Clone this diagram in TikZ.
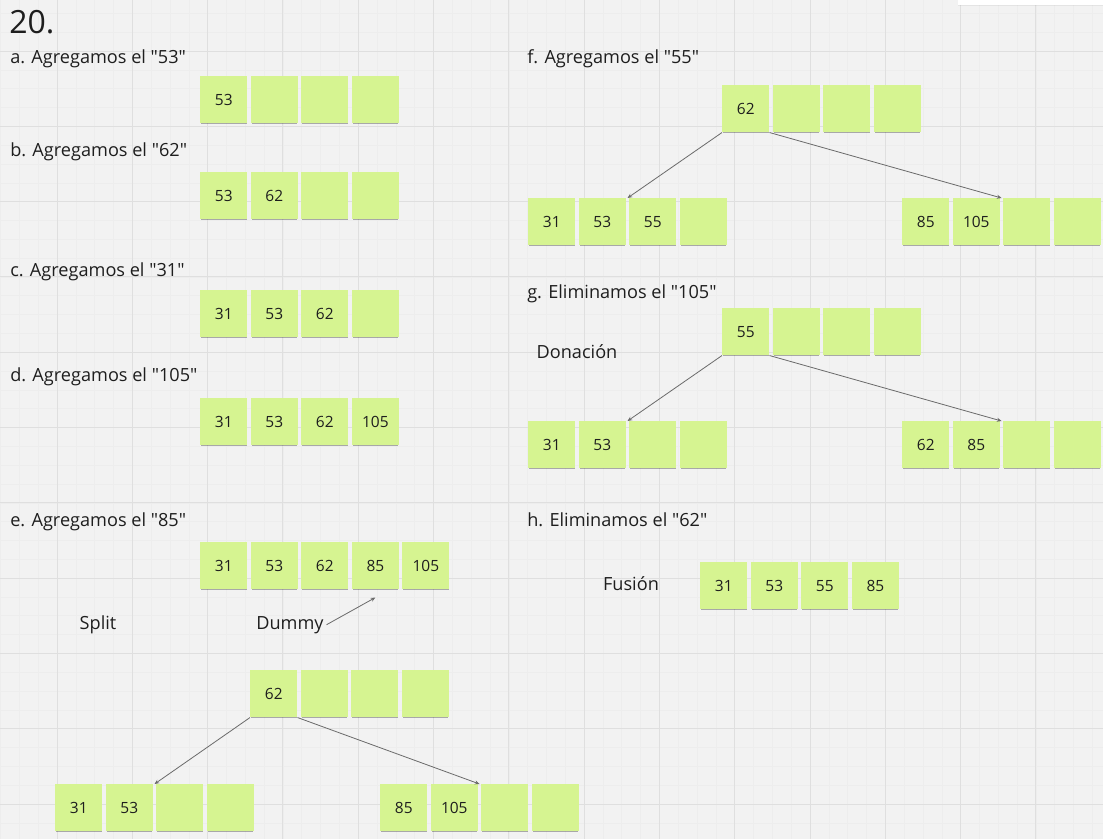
\documentclass[tikz,border=0pt]{standalone}
\usepackage{fontspec}
\setmainfont{Open Sans}[Ligatures=TeXOff]
\usetikzlibrary{arrows.meta, positioning, shadows}

\definecolor{board}{HTML}{F2F2F2}
\definecolor{gridmajor}{HTML}{DFDFDF}
\definecolor{gridminor}{HTML}{EDEDED}
\definecolor{sticky}{HTML}{D6F491}
\definecolor{ink}{HTML}{1E1E1E}
\definecolor{wire}{HTML}{6A6A6A}

% a row of four sticky notes
\newcommand\keyrow[6]{%
  \node (#1-1) [note, anchor=north west] at #2 {#3};
  \node (#1-2) [note, right=of #1-1] {#4};
  \node (#1-3) [note, right=of #1-2] {#5};
  \node (#1-4) [note, right=of #1-3] {#6};
}

\begin{document}
\begin{tikzpicture}[
    x=0.75pt, y=-0.75pt,
    node distance=2.25pt,
    note/.style = {fill=sticky, minimum width=35.25pt, minimum height=35.25pt,
                   inner sep=0pt, text=ink, font=\fontsize{11.6}{13}\selectfont,
                   drop shadow={shadow xshift=0pt, shadow yshift=-1.3pt,
                                shadow scale=0.97, opacity=.3, fill=black}},
    lbl/.style  = {anchor=base west, inner sep=0pt, text=ink,
                   font=\fontsize{13.6}{16}\selectfont},
    tag/.style  = {anchor=base, inner sep=2pt, text=ink,
                   font=\fontsize{13.6}{16}\selectfont},
    child/.style = {draw=wire, line width=.6pt, -{Stealth[length=3.5pt,width=3pt]}}
    ]
    \useasboundingbox (0,0) rectangle (1103,839);
    \fill[board] (0,0) rectangle (1103,839);
%
    \foreach \k in {-3,...,56}
        \draw[gridminor, line width=.4pt] ({57+18.825*\k},0) -- ++(0,839);
    \foreach \k in {-2,...,42}
        \draw[gridminor, line width=.4pt] (0,{51+18.825*\k}) -- ++(1103,0);
    \foreach \k in {0,...,14}
        \draw[gridmajor, line width=.75pt] ({57+75.3*\k},0) -- ++(0,839);
    \foreach \k in {0,...,10}
        \draw[gridmajor, line width=.75pt] (0,{51+75.3*\k}) -- ++(1103,0);
    \fill[white, drop shadow={shadow xshift=0pt, shadow yshift=-1pt, opacity=.12}]
        (958,-10) rectangle (1110,5);
%
    \node (title) [lbl, font=\fontsize{24}{28}\selectfont] at (9,33.5) {20.};
    \node (la) [lbl] at (10,63)  {a. Agregamos el "53"};
    \node (lb) [lbl] at (10,156) {b. Agregamos el "62"};
    \node (lc) [lbl] at (10,276) {c. Agregamos el "31"};
    \node (ld) [lbl] at (10,381) {d. Agregamos el "105"};
    \node (le) [lbl] at (10,526) {e. Agregamos el "85"};
    \node (lf) [lbl] at (527,63)  {f. Agregamos el "55"};
    \node (lg) [lbl] at (527,298) {g. Eliminamos el "105"};
    \node (lh) [lbl] at (527,526) {h. Eliminamos el "62"};
%
    \keyrow{rowa}{(200,76)}{53}{}{}{}
    \keyrow{rowb}{(200,172)}{53}{62}{}{}
    \keyrow{rowc}{(200,290)}{31}{53}{62}{}
    \keyrow{rowd}{(200,398)}{31}{53}{62}{105}
%
    \keyrow{rowe}{(200,542)}{31}{53}{62}{85}
    \node (rowe-5) [note, right=of rowe-4] {105};
    \node (split) [tag] at (98,629)  {Split};
    \node (dummy) [tag] at (290,629) {Dummy};
    \draw[child] (dummy.east) -- ([yshift=-6pt] rowe-4.south);
%
    \keyrow{eroot}{(250,670)}{62}{}{}{}
    \keyrow{eleft}{(55,784)}{31}{53}{}{}
    \keyrow{eright}{(380,784)}{85}{105}{}{}
    \draw[child] (eroot-1.south west) -- ([xshift=1.1pt] eleft-2.north east);
    \draw[child] (eroot-1.south east) -- ([xshift=1.1pt] eright-2.north east);
%
    \keyrow{froot}{(722,85)}{62}{}{}{}
    \keyrow{fleft}{(528,198)}{31}{53}{55}{}
    \keyrow{fright}{(902,198)}{85}{105}{}{}
    \draw[child] (froot-1.south west) -- ([xshift=1.1pt] fleft-2.north east);
    \draw[child] (froot-1.south east) -- ([xshift=1.1pt] fright-2.north east);
%
    \node (donation) [tag] at (577,358) {Donación};
    \keyrow{groot}{(722,308)}{55}{}{}{}
    \keyrow{gleft}{(528,421)}{31}{53}{}{}
    \keyrow{gright}{(902,421)}{62}{85}{}{}
    \draw[child] (groot-1.south west) -- ([xshift=1.1pt] gleft-2.north east);
    \draw[child] (groot-1.south east) -- ([xshift=1.1pt] gright-2.north east);
%
    \node (fusion) [tag] at (631,590) {Fusión};
    \keyrow{rowh}{(700,562)}{31}{53}{55}{85}
\end{tikzpicture}
\end{document}
